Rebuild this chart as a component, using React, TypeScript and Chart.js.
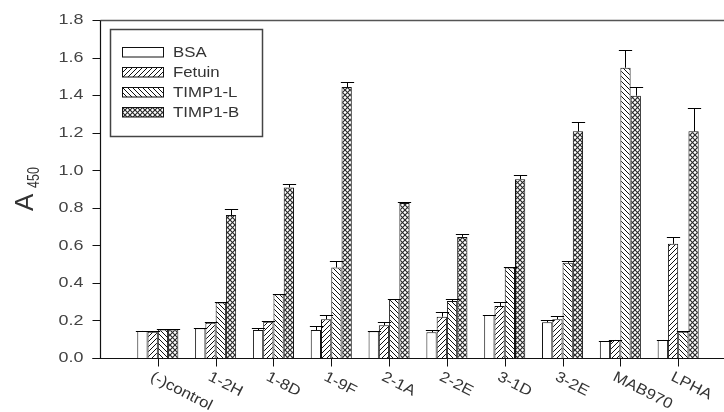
import React, { useEffect, useRef } from 'react';
import { Chart, registerables } from 'chart.js';

Chart.register(...registerables);

// ---- data ----
const categories = ['(-)control', '1-2H', '1-8D', '1-9F', '2-1A', '2-2E', '3-1D', '3-2E', 'MAB970', 'LPHA'];
const seriesNames = ['BSA', 'Fetuin', 'TIMP1-L', 'TIMP1-B'];

const bsa = [0.144, 0.158, 0.149, 0.149, 0.142, 0.137, 0.229, 0.19, 0.09, 0.096];
const bsaErr = [0.002, 0.002, 0.009, 0.023, 0.002, 0.012, 0.002, 0.01, 0.002, 0.002];

const fetuin = [0.14, 0.188, 0.193, 0.207, 0.174, 0.22, 0.277, 0.207, 0.096, 0.608];
const fetuinErr = [0.002, 0.005, 0.005, 0.021, 0.016, 0.027, 0.02, 0.016, 0.002, 0.039];

const timp1L = [0.152, 0.296, 0.339, 0.482, 0.314, 0.303, 0.482, 0.507, 1.546, 0.14];
const timp1LErr = [0.002, 0.002, 0.002, 0.034, 0.002, 0.01, 0.002, 0.01, 0.096, 0.002];

const timp1B = [0.152, 0.761, 0.908, 1.443, 0.826, 0.645, 0.952, 1.207, 1.397, 1.207];
const timp1BErr = [0.002, 0.03, 0.016, 0.027, 0.005, 0.013, 0.02, 0.05, 0.046, 0.126];

const yTickLabels = ['0.0', '0.2', '0.4', '0.6', '0.8', '1.0', '1.2', '1.4', '1.6', '1.8'];

const W = 740;
const H = 412;
const FONT = "'Liberation Sans', Arial, sans-serif";

function makePattern(kind: string): CanvasPattern | string {
  if (kind === 'none') return '#ffffff';
  const s = 5;
  const c = document.createElement('canvas');
  c.width = s;
  c.height = s;
  const g = c.getContext('2d')!;
  g.fillStyle = '#ffffff';
  g.fillRect(0, 0, s, s);
  g.strokeStyle = kind === 'cross' ? '#2a2a2a' : '#111';
  g.lineWidth = kind === 'cross' ? 1.15 : 1;
  const fwd = () => {
    g.beginPath();
    g.moveTo(-1, s + 1); g.lineTo(s + 1, -1);
    g.moveTo(-1, 1); g.lineTo(1, -1);
    g.moveTo(s - 1, s + 1); g.lineTo(s + 1, s - 1);
    g.stroke();
  };
  const back = () => {
    g.beginPath();
    g.moveTo(-1, -1); g.lineTo(s + 1, s + 1);
    g.moveTo(s - 1, -1); g.lineTo(s + 1, 1);
    g.moveTo(-1, s - 1); g.lineTo(1, s + 1);
    g.stroke();
  };
  if (kind === 'fwd') fwd();
  if (kind === 'back') back();
  if (kind === 'cross') { fwd(); back(); }
  return g.createPattern(c, 'repeat')!;
}

function txt(ctx: CanvasRenderingContext2D, s: string, x: number, y: number, o: any) {
  ctx.save();
  ctx.translate(x, y);
  if (o.rot) ctx.rotate(o.rot);
  ctx.scale(o.sx ?? 1, o.sy ?? 1);
  ctx.font = o.font;
  ctx.textAlign = o.align ?? 'left';
  ctx.textBaseline = o.base ?? 'alphabetic';
  ctx.fillStyle = o.color ?? '#222';
  ctx.fillText(s, 0, 0);
  ctx.restore();
}

export default function App() {
  const ref = useRef<HTMLCanvasElement>(null);

  useEffect(() => {
    const canvas = ref.current!;
    const kinds = ['none', 'fwd', 'back', 'cross'];
    const values = [bsa, fetuin, timp1L, timp1B];
    const errs = [bsaErr, fetuinErr, timp1LErr, timp1BErr];
    const fills = kinds.map(makePattern);
    const labels = ['', ...categories, ''];

    const decor = {
      id: 'decor',
      beforeDraw(chart: any) {
        const ctx = chart.ctx as CanvasRenderingContext2D;
        ctx.save();
        ctx.fillStyle = '#fff';
        ctx.fillRect(0, 0, chart.width, chart.height);
        ctx.restore();
      },
      afterDraw(chart: any) {
        const ctx = chart.ctx as CanvasRenderingContext2D;
        const xs = chart.scales.x;
        const ys = chart.scales.y;
        const area = chart.chartArea;
        const L = Math.round(area.left) + 0.5;
        const B = Math.round(area.bottom) + 0.5;
        const T = Math.round(area.top) + 0.5;

        // error bars
        ctx.save();
        ctx.strokeStyle = '#000';
        ctx.lineWidth = 1;
        values.forEach((vals, d) => {
          const meta = chart.getDatasetMeta(d);
          vals.forEach((v, i) => {
            const el = meta.data[i + 1];
            if (!el) return;
            const x = Math.round(el.x) + 0.5;
            const y0 = ys.getPixelForValue(v);
            const y1 = Math.round(ys.getPixelForValue(v + errs[d][i])) + 0.5;
            const hw = el.width / 2 + 1.5;
            ctx.beginPath();
            ctx.moveTo(x, y0);
            ctx.lineTo(x, y1);
            ctx.moveTo(x - hw, y1);
            ctx.lineTo(x + hw, y1);
            ctx.stroke();
          });
        });
        ctx.restore();

        // frame top line
        ctx.save();
        ctx.strokeStyle = '#555';
        ctx.lineWidth = 1.5;
        ctx.beginPath();
        ctx.moveTo(L, T);
        ctx.lineTo(chart.width, T);
        ctx.stroke();

        // axes
        ctx.strokeStyle = '#111';
        ctx.lineWidth = 1.2;
        ctx.beginPath();
        ctx.moveTo(L, T);
        ctx.lineTo(L, B);
        ctx.moveTo(L - 8, B);
        ctx.lineTo(chart.width, B);
        ctx.stroke();

        ctx.lineWidth = 1;
        ctx.beginPath();
        yTickLabels.forEach((lab) => {
          const y = Math.round(ys.getPixelForValue(Number(lab))) + 0.5;
          ctx.moveTo(L - 8, y);
          ctx.lineTo(L, y);
        });
        categories.forEach((_c, i) => {
          const x = Math.round(xs.getPixelForValue(i + 1)) + 0.5;
          ctx.moveTo(x, B);
          ctx.lineTo(x, B + 8);
        });
        ctx.stroke();
        ctx.restore();

        // y tick labels
        yTickLabels.forEach((lab) => {
          const y = ys.getPixelForValue(Number(lab));
          txt(ctx, lab, L - 17, y + 0.5, { font: `14px ${FONT}`, align: 'right', base: 'middle', sx: 1.28, color: '#444' });
        });

        // x labels, rotated
        categories.forEach((c, i) => {
          const x = xs.getPixelForValue(i + 1);
          txt(ctx, c, x - 3, B + 11, { font: `15px ${FONT}`, align: 'left', base: 'top', rot: (27 * Math.PI) / 180, sx: 1.12, color: '#333' });
        });

        // y title A450
        txt(ctx, 'A', 33, 211, { font: `26px ${FONT}`, rot: -Math.PI / 2, color: '#333' });
        txt(ctx, '450', 39, 188, { font: `12.5px ${FONT}`, rot: -Math.PI / 2, sy: 1.25, color: '#333' });

        // legend
        ctx.save();
        ctx.strokeStyle = '#444';
        ctx.lineWidth = 1.5;
        ctx.strokeRect(110.5, 29.5, 152, 107);
        seriesNames.forEach((name, k) => {
          const top = 47.5 + k * 20;
          ctx.fillStyle = fills[k] as any;
          ctx.fillRect(122.5, top, 41, 9.5);
          ctx.strokeStyle = '#111';
          ctx.lineWidth = 1;
          ctx.strokeRect(122.5, top, 41, 9.5);
          txt(ctx, name, 173, top + 5, { font: `15px ${FONT}`, align: 'left', base: 'middle', sx: 1.12, color: '#333' });
        });
        ctx.restore();
      },
    };

    const chart = new Chart(canvas, {
      type: 'bar',
      data: {
        labels,
        datasets: values.map((vals, d) => ({
          label: seriesNames[d],
          data: [null, ...vals, null],
          backgroundColor: fills[d] as any,
          borderColor: '#111',
          borderWidth: 1,
          categoryPercentage: 0.71,
          barPercentage: 1,
        })),
      },
      options: {
        responsive: false,
        animation: false,
        layout: { padding: { left: 0, right: 4, top: 20, bottom: 54 } },
        plugins: { legend: { display: false }, tooltip: { enabled: false } },
        scales: {
          x: {
            type: 'category',
            offset: false,
            grid: { display: false },
            border: { display: false },
            ticks: { display: false },
            afterFit: (s: any) => { s.height = 0; },
          },
          y: {
            min: 0,
            max: 1.8,
            grid: { display: false },
            border: { display: false },
            ticks: { display: false, stepSize: 0.2 },
            afterFit: (s: any) => { s.width = 100; },
          },
        },
      } as any,
      plugins: [decor],
    });
    return () => chart.destroy();
  }, []);

  return (
    <div style={{ position: 'fixed', left: 0, top: 0, width: W, height: H, overflow: 'hidden', background: '#fff' }}>
      <canvas ref={ref} width={W} height={H} style={{ display: 'block', width: W, height: H }} />
    </div>
  );
}
